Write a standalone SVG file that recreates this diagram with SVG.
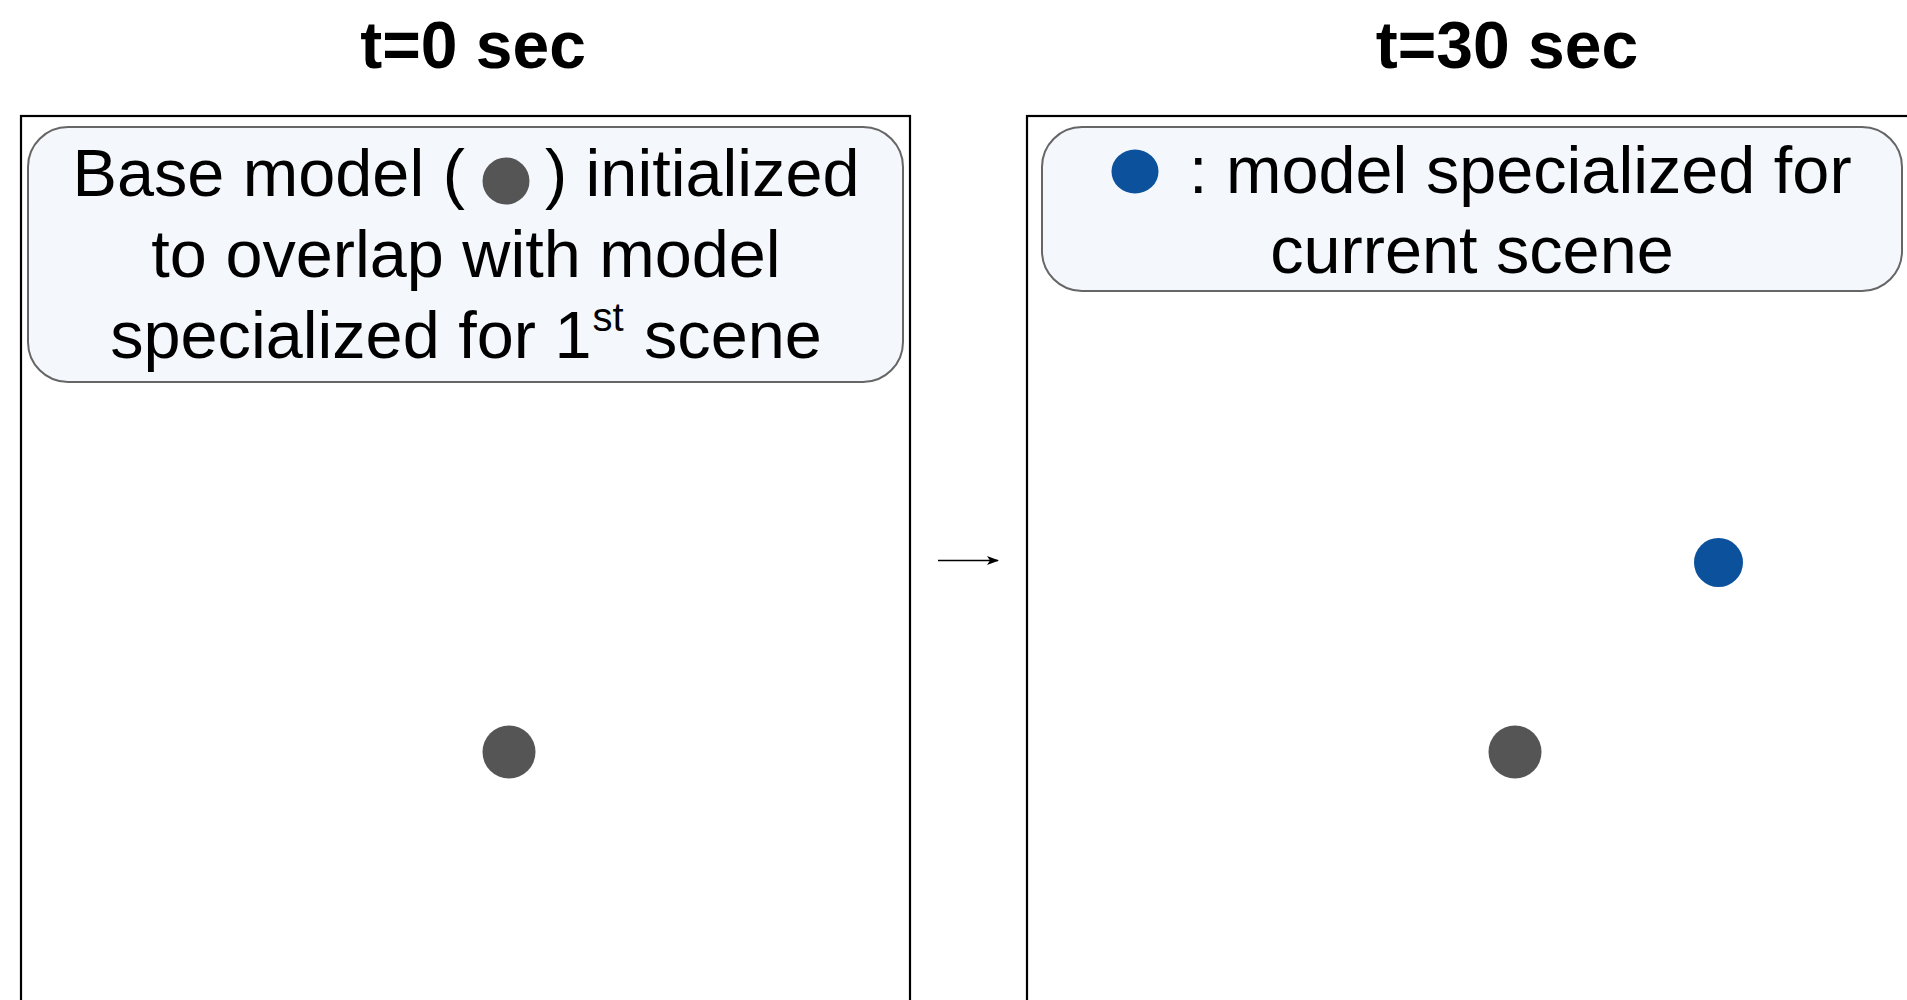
<svg xmlns="http://www.w3.org/2000/svg" width="1907" height="1000" viewBox="0 0 1907 1000">
  <style>
    .title { font-family: "Liberation Sans", Arial, sans-serif; font-weight: bold; font-size: 66px; fill: #000; text-anchor: middle; }
    .note-text { font-family: "Liberation Sans", Arial, sans-serif; font-size: 66.6px; fill: #000; }
    .frame { fill: none; stroke: #000; stroke-width: 2.2; }
    .note { fill: #f4f8fd; stroke: #666; stroke-width: 2; }
    .base { fill: #555555; }
    .spec { fill: #0b519b; }
    .link { stroke: #000; stroke-width: 1.4; fill: none; }
  </style>
  <defs>
    <marker id="arrow" viewBox="0 0 12 10" refX="11" refY="5" markerWidth="12" markerHeight="10" markerUnits="userSpaceOnUse" orient="auto">
      <path d="M0,0.5 L12,5 L0,9.5 L3,5 Z" fill="#000"/>
    </marker>
  </defs>
  <rect width="1907" height="1000" fill="#fff"/>

  <!-- column headings -->
  <g id="title-t0">
    <text class="title" x="473" y="68">t=0 sec</text>
  </g>
  <g id="title-t30">
    <text class="title" x="1507" y="68">t=30 sec</text>
  </g>

  <!-- left panel: starting state -->
  <g id="panel-t0">
    <rect class="frame" x="21" y="116" width="889" height="1000"/>
  </g>
  <g id="note-t0">
    <rect class="note" x="28" y="127" width="875" height="255" rx="40" ry="40"/>
    <text class="note-text" x="466" y="196" text-anchor="middle">Base model (<tspan dx="80">) initialized</tspan></text>
    <circle class="base" cx="506" cy="181" r="23.5"/>
    <text class="note-text" x="466" y="277" text-anchor="middle">to overlap with model</text>
    <text class="note-text" x="466" y="358" text-anchor="middle">specialized for 1<tspan font-size="40" dx="1" dy="-27">st</tspan><tspan dx="2" dy="27"> scene</tspan></text>
  </g>
  <g id="base-model-t0">
    <circle class="base" cx="509" cy="752" r="26.5"/>
  </g>

  <!-- right panel: after 30 seconds -->
  <g id="panel-t30">
    <rect class="frame" x="1027" y="116" width="1000" height="1000"/>
  </g>
  <g id="note-t30">
    <rect class="note" x="1042" y="127" width="860" height="164" rx="40" ry="40"/>
    <ellipse class="spec" cx="1135" cy="171.5" rx="23.5" ry="22"/>
    <text class="note-text" x="1189" y="193">: model specialized for</text>
    <text class="note-text" x="1472" y="273" text-anchor="middle">current scene</text>
  </g>
  <g id="base-model-t30">
    <circle class="base" cx="1515" cy="752" r="26.5"/>
  </g>
  <g id="specialized-model-t30">
    <circle class="spec" cx="1718.5" cy="562.5" r="24.5"/>
  </g>

  <!-- connectors -->
  <g id="connectors">
    <line class="link" x1="938" y1="560.5" x2="998" y2="560.5" marker-end="url(#arrow)"/>
  </g>
</svg>
